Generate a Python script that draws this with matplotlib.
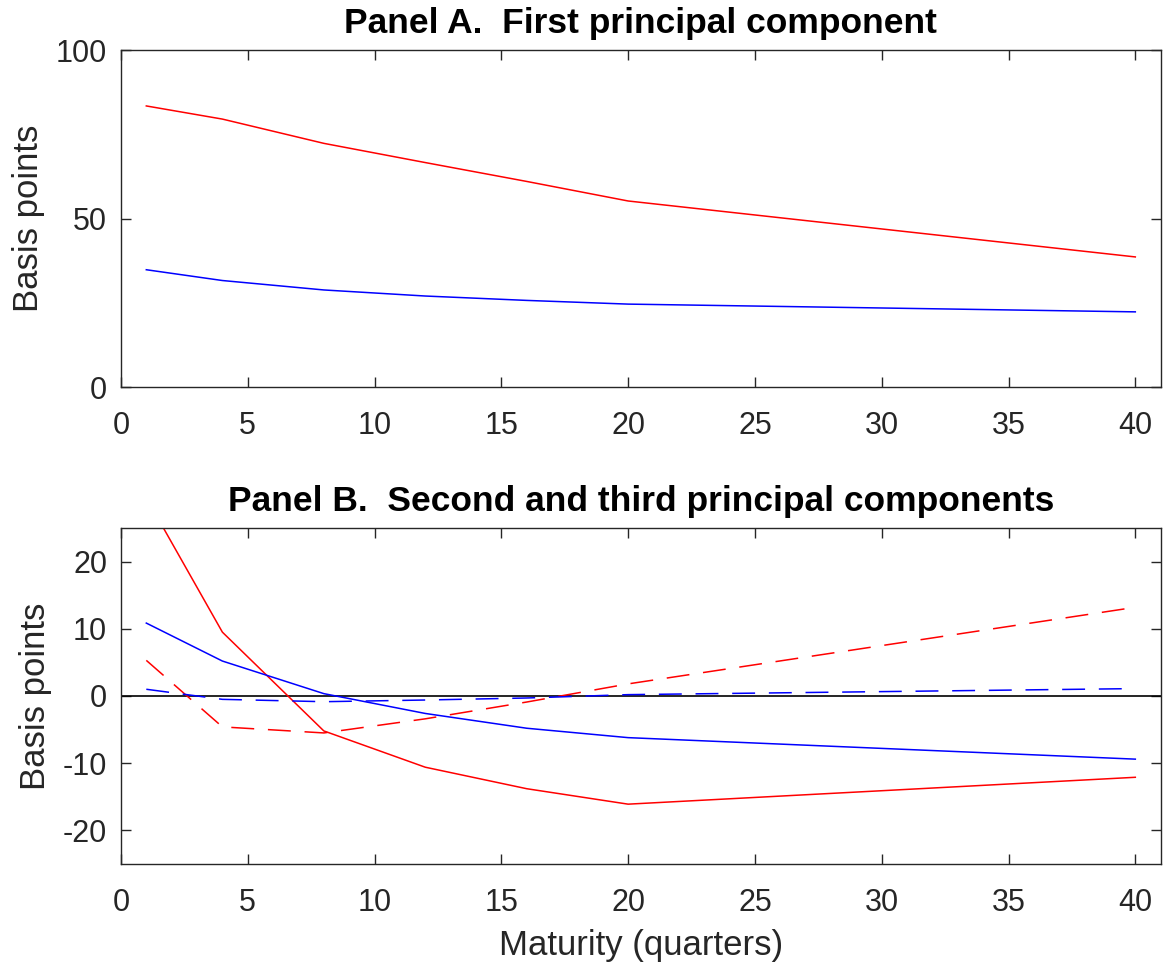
import matplotlib
matplotlib.use("Agg")
import matplotlib.pyplot as plt

# maturities in quarters
maturity = [1, 4, 8, 12, 16, 20, 40]

# Panel A: first principal component (basis points)
pc1_red = [83.4, 79.5, 72.3, 66.6, 61.0, 55.2, 38.6]
pc1_blue = [34.8, 31.6, 28.8, 27.0, 25.7, 24.6, 22.3]

# Panel B: second (solid) and third (dashed) principal components
pc2_red = [29.5, 9.5, -5.2, -10.6, -13.8, -16.1, -12.1]
pc2_blue = [10.85, 5.2, 0.35, -2.6, -4.8, -6.2, -9.4]
pc3_red = [5.3, -4.6, -5.5, -3.4, -0.9, 1.8, 13.2]
pc3_blue = [1.0, -0.5, -0.85, -0.6, -0.3, 0.2, 1.1]

x_ticks = [0, 5, 10, 15, 20, 25, 30, 35, 40]

plt.rcParams["font.family"] = ["Liberation Sans", "DejaVu Sans"]
plt.rcParams["axes.unicode_minus"] = False
AX_COLOR = "#262626"
TICK_FS = 22
LABEL_FS = 25
TITLE_FS = 25.5
LW = 1.1
DASH = (15, 9)


def style_axes(ax):
    for sp in ax.spines.values():
        sp.set_color(AX_COLOR)
        sp.set_linewidth(1.0)
    ax.tick_params(direction="in", length=7.5, width=1.0, color=AX_COLOR,
                   labelcolor=AX_COLOR, labelsize=TICK_FS,
                   top=True, right=True)
    ax.tick_params(axis="x", pad=17)
    ax.tick_params(axis="y", pad=10)
    ax.set_xlim(0, 41)
    ax.set_xticks(x_ticks)
    ax.set_ylabel("Basis points", fontsize=LABEL_FS, color=AX_COLOR, labelpad=8)


fig = plt.figure(figsize=(11.63, 9.69), dpi=100)
ax1 = fig.add_axes([0.104, 0.6006, 0.894, 0.3478])
ax2 = fig.add_axes([0.104, 0.1084, 0.894, 0.3467])

ax1.plot(maturity, pc1_red, color="red", lw=LW)
ax1.plot(maturity, pc1_blue, color="blue", lw=LW)
ax1.set_ylim(0, 100)
ax1.set_yticks([0, 50, 100])
style_axes(ax1)
ax1.set_title("Panel A.  First principal component", fontsize=TITLE_FS,
              fontweight="bold", pad=12)

ax2.axhline(0, color="black", lw=1.2)
ax2.plot(maturity, pc2_red, color="red", lw=LW)
ax2.plot(maturity, pc2_blue, color="blue", lw=LW)
ax2.plot(maturity, pc3_red, color="red", lw=LW, dashes=DASH)
ax2.plot(maturity, pc3_blue, color="blue", lw=LW, dashes=DASH)
ax2.set_ylim(-25, 25)
ax2.set_yticks([-20, -10, 0, 10, 20])
style_axes(ax2)
ax2.set_title("Panel B.  Second and third principal components",
              fontsize=TITLE_FS, fontweight="bold", pad=12)
ax2.set_xlabel("Maturity (quarters)", fontsize=LABEL_FS, color=AX_COLOR,
               labelpad=8)

fig.savefig("out.png", dpi=100)
